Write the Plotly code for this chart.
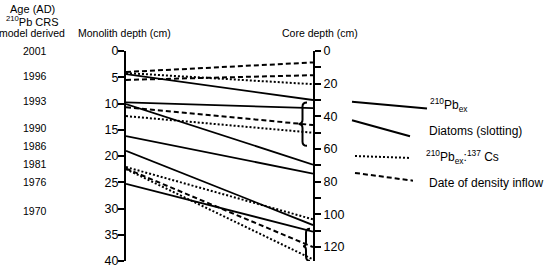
import plotly.graph_objects as go

# ---------------- data ----------------
# solid lines (210Pb_ex and diatom slotting tie lines): monolith depth -> core depth (cm)
solid_mono = [4.4, 9.8, 10.1, 16.2, 19.0, 25.3]
solid_core = [30.0, 35.0, 69.5, 75.0, 106.5, 110.5]
# dotted lines (210Pb_ex:137Cs)
dotted_mono = [4.2, 12.4, 22.1, 22.5]
dotted_core = [20.3, 50.0, 103.0, 127.5]
# dashed lines (date of density inflow)
dashed_mono = [4.0, 5.5, 10.7, 22.4]
dashed_core = [7.0, 14.8, 45.3, 120.0]

# age labels (AD) at monolith depths
age_labels = ["2001", "1996", "1993", "1990", "1986", "1981", "1976", "1970"]
age_depths = [0.0, 4.7, 9.6, 14.6, 18.0, 21.5, 25.0, 30.5]

mono_ticks = [0, 5, 10, 15, 20, 25, 30, 35, 40]
core_ticks = [0, 20, 40, 60, 80, 100, 120]
core_minor = [10, 30, 50, 70, 90, 110]

# braces on core axis: (top, tip, bottom) core depths
brace1 = [31.5, 44.6, 58.0]
brace2 = [108.7, 119.5, 128.4]

MONO_MAX = 40.0
CORE_MAX = 128.5

FONT = "Liberation Sans, Arial, sans-serif"
W, H = 548, 277
L, R, T, B = 126, 235, 51, 9
PW, PH = W - L - R, H - T - B


def core_to_mono(v):
    # map a core depth onto the monolith axis using both axes' ranges
    return v * MONO_MAX / CORE_MAX


def px(xp):
    return (xp - L) / PW


def py(yp):
    return 1 - (yp - T) / PH


fig = go.Figure()

DASH = "5px,3px"
DOT = "2px,2px"


def add_group(mono, core, dash, width):
    for m, c in zip(mono, core):
        fig.add_trace(go.Scatter(
            x=[0, 1], y=[m, core_to_mono(c)], mode="lines",
            line=dict(color="black", width=width, dash=dash),
            showlegend=False, hoverinfo="skip"))


add_group(solid_mono, solid_core, "solid", 1.8)
add_group(dotted_mono, dotted_core, DOT, 2)
add_group(dashed_mono, dashed_core, DASH, 2)

# invisible trace to activate right axis
fig.add_trace(go.Scatter(x=[1], y=[0], yaxis="y2", mode="markers",
                         marker=dict(opacity=0), showlegend=False, hoverinfo="skip"))

shapes = []


def brace(vals, xl, xm, xr):
    top, mid, bot = vals
    d = 2.5
    path = (f"M {xr},{top} Q {xm},{top} {xm},{top + d} "
            f"L {xm},{mid - d} Q {xm},{mid} {xl},{mid} "
            f"Q {xm},{mid} {xm},{mid + d} "
            f"L {xm},{bot - d} Q {xm},{bot} {xr},{bot}")
    shapes.append(dict(type="path", path=path, xref="x", yref="y2",
                       line=dict(color="black", width=2)))


brace(brace1, px(298.5), px(302.5), px(307))
brace(brace2, px(303), px(306), px(310))

# legend samples
leg = [
    ((352, 103.5), (427, 110.5), "solid"),
    ((352, 122.5), (410, 139.0), "solid"),
    ((355, 159.5), (410, 161.5), DOT),
    ((355, 177.0), (413, 185.0), DASH),
]
for (x0, y0), (x1, y1), ds in leg:
    shapes.append(dict(type="line", xref="paper", yref="paper",
                       x0=px(x0), y0=py(y0), x1=px(x1), y1=py(y1),
                       line=dict(color="black", width=2, dash=ds)))

ann = []
leg_text = [
    (428, 107, "<sup>210</sup>Pb<sub>ex</sub>"),
    (427, 134, "Diatoms (slotting)"),
    (424, 161, "<sup>210</sup>Pb<sub>ex</sub>:<sup>137</sup> Cs"),
    (427, 187, "Date of density inflow"),
]
for x, y, t in leg_text:
    ann.append(dict(text=t, x=px(x), y=py(y), xref="paper", yref="paper",
                    xanchor="left", yanchor="middle", showarrow=False,
                    font=dict(family=FONT, size=12, color="black")))

for lab, d in zip(age_labels, age_depths):
    ann.append(dict(text=lab, x=px(35), y=d, xref="paper", yref="y",
                    xanchor="center", yanchor="middle", showarrow=False,
                    font=dict(family=FONT, size=10.5, color="black")))

headers = [
    (32, 8, "Age (AD)", 11),
    (32, 20, "<sup>210</sup>Pb CRS", 11),
    (32, 32, "model derived", 10.5),
    (124, 32, "Monolith depth (cm)", 10.5),
    (320, 32, "Core depth (cm)", 10.5),
]
for x, y, t, fs in headers:
    ann.append(dict(text=t, x=px(x), y=py(y), xref="paper", yref="paper",
                    xanchor="center", yanchor="middle", showarrow=False,
                    font=dict(family=FONT, size=fs, color="black")))

fig.update_layout(
    width=W, height=H,
    margin=dict(l=L, r=R, t=T, b=B),
    paper_bgcolor="white", plot_bgcolor="white",
    font=dict(family=FONT, color="black"),
    xaxis=dict(range=[0, 1], visible=False),
    yaxis=dict(range=[MONO_MAX, 0], tickvals=mono_ticks, showgrid=False,
               zeroline=False, showline=True, linecolor="black", linewidth=2,
               ticks="outside", ticklen=6, tickwidth=2, tickcolor="black",
               ticklabelstandoff=-3,
               tickfont=dict(family=FONT, size=12.5, color="black")),
    yaxis2=dict(range=[CORE_MAX, 0], tickvals=core_ticks, overlaying="y",
                side="right", showgrid=False, zeroline=False, showline=True,
                linecolor="black", linewidth=2, ticks="outside", ticklen=6,
                tickwidth=2, tickcolor="black",
                minor=dict(tickvals=core_minor, ticks="outside",
                           ticklen=6, tickwidth=2, tickcolor="black"),
                tickfont=dict(family=FONT, size=12.5, color="black")),
    shapes=shapes, annotations=ann,
)

fig.write_html("out.html", config={"displayModeBar": False},
               post_script="document.body.style.margin='0';")
